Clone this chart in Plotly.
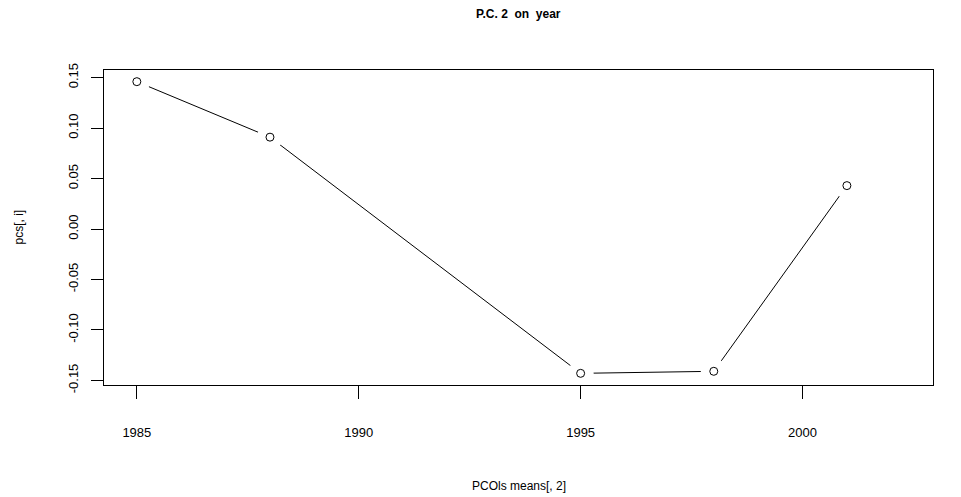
import plotly.graph_objects as go

# Second principal coordinate, averaged by survey year
years = [1985, 1988, 1995, 1998, 2001]
pc2 = [0.146, 0.091, -0.143, -0.141, 0.043]

x_ticks = [1985, 1990, 1995, 2000]
y_ticks = [-0.15, -0.10, -0.05, 0.00, 0.05, 0.10, 0.15]
y_tick_text = [f"{v:.2f}" for v in y_ticks]

title_text = "P.C.\u00a02\u00a0\u00a0on\u00a0\u00a0year"
x_title = "PCOls means[, 2]"
y_title = "pcs[, i]"

W, H = 961, 497
left, right, top, bottom = 104, 28, 70, 112
plot_w = W - left - right
plot_h = H - top - bottom

# horizontal limits of the plotting box
x_range = [1984.26, 2002.94]
# R-style 4% padding on the value axis
yspan = max(pc2) - min(pc2)
y_range = [min(pc2) - 0.04 * yspan, max(pc2) + 0.04 * yspan]

font = "Liberation Sans, Arial, Helvetica, sans-serif"

fig = go.Figure()
# connecting line
fig.add_trace(go.Scatter(x=years, y=pc2, mode="lines",
                         line=dict(color="black", width=1), hoverinfo="skip"))
# white discs leave a gap in the line around each point (type="b")
fig.add_trace(go.Scatter(x=years, y=pc2, mode="markers",
                         marker=dict(size=26, color="white", line=dict(width=0)),
                         hoverinfo="skip"))
# open circles
fig.add_trace(go.Scatter(x=years, y=pc2, mode="markers",
                         marker=dict(size=8, color="white", symbol="circle",
                                     line=dict(color="black", width=1))))

fig.add_annotation(text=f"<b>{title_text}</b>", xref="paper", yref="paper",
                   x=0.5, y=1 + (top - 14) / plot_h,
                   xanchor="center", yanchor="middle", showarrow=False,
                   font=dict(family=font, size=12, color="black"))
fig.add_annotation(text=x_title, xref="paper", yref="paper",
                   x=0.5, y=-(486 - (H - bottom)) / plot_h,
                   xanchor="center", yanchor="middle", showarrow=False,
                   font=dict(family=font, size=12, color="black"))
fig.add_annotation(text=y_title, xref="paper", yref="paper",
                   x=(18 - left) / plot_w, y=0.5, textangle=-90,
                   xanchor="center", yanchor="middle", showarrow=False,
                   font=dict(family=font, size=12, color="black"))

fig.update_layout(
    width=W, height=H,
    margin=dict(l=left, r=right, t=top, b=bottom, pad=0),
    paper_bgcolor="white", plot_bgcolor="white",
    showlegend=False,
    font=dict(family=font, size=13, color="black"),
)
fig.update_xaxes(range=x_range, tickvals=x_ticks,
                 showgrid=False, zeroline=False,
                 showline=True, mirror=True, linecolor="black", linewidth=1,
                 ticks="outside", ticklen=13, tickcolor="black", tickwidth=1,
                 ticklabelstandoff=22, tickfont=dict(size=13))
fig.update_yaxes(range=y_range, tickvals=y_ticks, ticktext=y_tick_text,
                 showgrid=False, zeroline=False,
                 showline=True, mirror=True, linecolor="black", linewidth=1,
                 ticks="outside", ticklen=12, tickcolor="black", tickwidth=1,
                 tickangle=-90, ticklabelstandoff=8, tickfont=dict(size=13))

fig.write_html("out.html")
